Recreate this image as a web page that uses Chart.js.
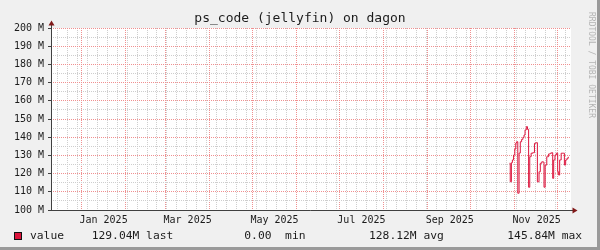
<!DOCTYPE html>
<html>
<head>
<meta charset="utf-8">
<script src="https://cdn.jsdelivr.net/npm/chart.js@4/dist/chart.umd.min.js"></script>
<style>
  html, body { margin: 0; padding: 0; background: #f0f0f0; }
  #wrap { position: relative; width: 600px; height: 250px; background: #f0f0f0; overflow: hidden; }
  #wrap canvas { position: absolute; left: 0; top: 0; }
  .txt { position: absolute; font-family: 'DejaVu Sans Mono', monospace; color: #1c1c1c; white-space: pre; }
  #title { left: 0; width: 600px; text-align: center; top: 10px; font-size: 13px; line-height: 16px; }
  .leg { top: 229px; font-size: 11.3px; line-height: 14px; }
  #swatch { position: absolute; left: 14px; top: 232px; width: 8px; height: 8px; box-sizing: border-box; border: 1px solid #111; background: #dc143c; }
  #mark { position: absolute; left: 586px; top: 12px; writing-mode: vertical-rl; font-family: 'DejaVu Sans Mono', monospace; font-size: 8px; color: #b4b4b4; white-space: pre; line-height: 10px; }
  #shadeR { position: absolute; right: 0; top: 0; width: 3px; height: 250px; background: #9a9a9a; }
  #shadeB { position: absolute; left: 0; bottom: 0; width: 600px; height: 3px; background: #9a9a9a; }
</style>
</head>
<body>
<div id="wrap">
  <canvas id="chart" width="600" height="250"></canvas>
  <div id="title" class="txt">ps_code (jellyfin) on dagon</div>
  <div id="swatch"></div>
  <div class="txt leg" style="left:30px">value</div>
  <div class="txt leg" style="left:91.7px">129.04M last</div>
  <div class="txt leg" style="left:244.3px">0.00  min</div>
  <div class="txt leg" style="left:369px">128.12M avg</div>
  <div class="txt leg" style="left:507.3px">145.84M max</div>
  <div id="mark">RRDTOOL / TOBI OETIKER</div>
  <div id="shadeR"></div>
  <div id="shadeB"></div>
</div>
<script>
// days counted from 2025-01-01
const dayOffsets = [300.5, 301.4, 302.1, 302.8, 303.8, 304.5, 305.2, 305.7, 306.8, 307.5,
    308.5, 309.4, 310.3, 311.0, 311.7, 312.7, 313.4, 314.3, 315.0, 316.2,
    317.4, 318.5, 319.3, 320.7, 321.6, 322.5, 323.7, 324.4, 324.9, 326.0,
    327.2, 328.6, 329.5, 330.5, 331.0, 331.9, 332.8, 333.8, 334.7, 335.2,
    336.1, 337.3, 338.5, 339.4, 340.3, 341.3, 342.0];

// ps_code in M
const codeValues = [125.7, 115.5, 126, 127.5, 130.2, 133.5, 136.8, 137.5, 109.2, 131.3,
    137.5, 138.8, 139.9, 141.2, 144, 145.8, 144.3, 112.5, 129.3, 131.2,
    131.5, 136.6, 137, 115.5, 121, 125.7, 126.5, 126.3, 112.5, 124.7,
    129.3, 130.8, 131.2, 131.5, 117.4, 127.5, 130.2, 131.2, 121, 119.2,
    127.5, 131.2, 131.2, 124.7, 127.5, 128.4, 129.04];

const monthStarts = [0, 31, 59, 90, 120, 151, 181, 212, 243, 273, 304, 334];
const monthLabels = ['Jan 2025', 'Mar 2025', 'May 2025', 'Jul 2025', 'Sep 2025', 'Nov 2025'];
const labelDays = [15.5, 74.5, 135.5, 196.5, 258.5, 319.5];
const yTicks = [100, 105, 110, 115, 120, 125, 130, 135, 140, 145, 150,
    155, 160, 165, 170, 175, 180, 185, 190, 195, 200];

const X_MIN = -21.4, X_MAX = 343.6;
const MINOR = '#cecece';
const MAJOR = '#f09090';
const AXIS = '#404040';
const ARROW = '#801818';

// tick kinds for the time axis: week / month / label
const xKinds = {};
for (let d = 4 - 7 * 3; d <= X_MAX; d += 7) {
    if (d >= X_MIN) xKinds[d] = 'week';
}
monthStarts.forEach(d => { xKinds[d] = 'month'; });
labelDays.forEach((d, i) => { xKinds[d] = monthLabels[i]; });

// white canvas + axis lines with arrows
const rrdFrame = {
    id: 'rrdFrame',
    beforeDraw(chart) {
        const a = chart.chartArea, ctx = chart.ctx;
        ctx.save();
        ctx.fillStyle = '#ffffff';
        ctx.fillRect(a.left, a.top, a.right - a.left, a.bottom - a.top);
        ctx.restore();
    },
    afterDraw(chart) {
        const a = chart.chartArea, ctx = chart.ctx;
        const x0 = Math.round(a.left) + 0.5, y0 = Math.round(a.bottom) + 0.5;
        ctx.save();
        ctx.strokeStyle = AXIS;
        ctx.lineWidth = 1;
        ctx.beginPath();
        ctx.moveTo(x0, y0);
        ctx.lineTo(x0, a.top - 3);
        ctx.moveTo(x0 - 3, y0);
        ctx.lineTo(a.right + 2, y0);
        ctx.stroke();
        ctx.fillStyle = ARROW;
        ctx.beginPath();
        ctx.moveTo(x0, a.top - 7.5);
        ctx.lineTo(x0 - 3, a.top - 2.5);
        ctx.lineTo(x0 + 3, a.top - 2.5);
        ctx.closePath();
        ctx.fill();
        ctx.beginPath();
        ctx.moveTo(a.right + 6.5, y0);
        ctx.lineTo(a.right + 1.5, y0 - 3);
        ctx.lineTo(a.right + 1.5, y0 + 3);
        ctx.closePath();
        ctx.fill();
        ctx.restore();
    }
};

new Chart(document.getElementById('chart'), {
    type: 'line',
    data: {
        datasets: [{
            label: 'value',
            data: dayOffsets.map((d, i) => ({ x: d, y: codeValues[i] })),
            borderColor: '#dc143c',
            borderWidth: 1,
            pointRadius: 0,
            stepped: 'middle',
            fill: false
        }]
    },
    options: {
        responsive: false,
        animation: false,
        layout: {
            padding: { left: 0, right: 29, top: 28, bottom: 0 }
        },
        plugins: {
            legend: { display: false },
            title: { display: false },
            tooltip: { enabled: false }
        },
        scales: {
            x: {
                type: 'linear',
                min: X_MIN,
                max: X_MAX,
                afterBuildTicks: function(scale) {
                    scale.ticks = Object.keys(xKinds).map(Number)
                        .sort((p, q) => p - q)
                        .map(v => ({ value: v }));
                },
                afterFit: function(scale) {
                    scale.height = 40;
                },
                border: { display: false, dash: [1, 1] },
                grid: {
                    drawTicks: false,
                    color: function(ctx) {
                        const k = ctx.tick ? xKinds[ctx.tick.value] : null;
                        if (k === 'week') return MINOR;
                        if (k === 'month') return MAJOR;
                        return 'rgba(0,0,0,0)';
                    }
                },
                ticks: {
                    autoSkip: false,
                    maxRotation: 0,
                    minRotation: 0,
                    padding: 4,
                    color: '#1c1c1c',
                    font: { family: 'DejaVu Sans Mono', size: 10 },
                    callback: function(value) {
                        const k = xKinds[value];
                        return (k === 'week' || k === 'month') ? '' : k;
                    }
                }
            },
            y: {
                type: 'linear',
                min: 100,
                max: 200,
                afterBuildTicks: function(scale) {
                    scale.ticks = yTicks.map(v => ({ value: v }));
                },
                afterFit: function(scale) {
                    scale.width = 51;
                },
                border: { display: false, dash: [1, 1] },
                grid: {
                    drawTicks: true,
                    tickLength: 3,
                    color: function(ctx) {
                        if (!ctx.tick) return MINOR;
                        return ctx.tick.value % 10 === 0 ? MAJOR : MINOR;
                    },
                    tickColor: function(ctx) {
                        if (!ctx.tick) return 'rgba(0,0,0,0)';
                        return ctx.tick.value % 10 === 0 ? AXIS : 'rgba(0,0,0,0)';
                    }
                },
                ticks: {
                    autoSkip: false,
                    padding: 4,
                    color: '#1c1c1c',
                    font: { family: 'DejaVu Sans Mono', size: 10 },
                    callback: function(value) {
                        return value % 10 === 0 ? value + ' M' : '';
                    }
                }
            }
        }
    },
    plugins: [rrdFrame]
});
</script>
</body>
</html>
